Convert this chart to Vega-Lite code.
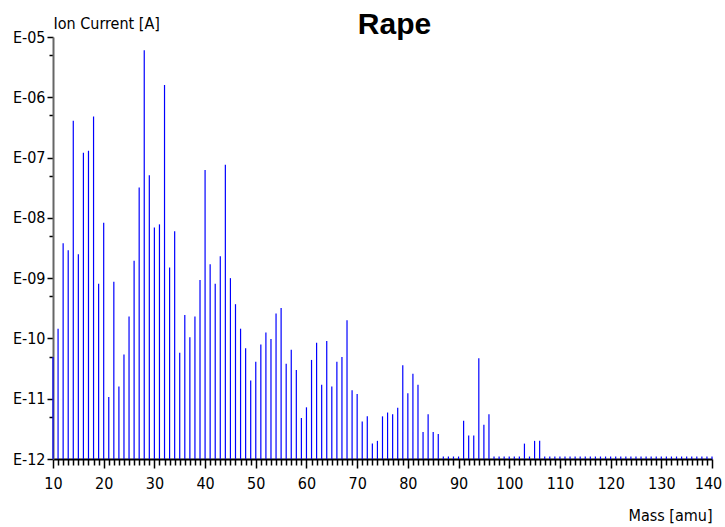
{
  "$schema": "https://vega.github.io/schema/vega-lite/v6.json",
  "width": 659,
  "height": 422,
  "autosize": "none",
  "padding": {"left": 53, "top": 37, "right": 13, "bottom": 68},
  "background": "white",
  "config": {"view": {"stroke": null}},
  "title": {"text": "Rape", "font": "Liberation Sans", "fontSize": 30, "fontWeight": "bold", "color": "black", "anchor": "middle", "dx": 12, "dy": 51, "baseline": "alphabetic", "offset": 2},
  "data": {"values": [
    {"m":10,"i":4.9e-11},{"m":11,"i":1.45e-10},{"m":12,"i":3.8e-9},{"m":13,"i":2.9e-9},{"m":14,"i":4.1e-7},
    {"m":15,"i":2.5e-9},{"m":16,"i":1.2e-7},{"m":17,"i":1.3e-7},{"m":18,"i":4.8e-7},{"m":19,"i":8.1e-10},
    {"m":20,"i":8.3e-9},{"m":21,"i":1.07e-11},{"m":22,"i":8.7e-10},{"m":23,"i":1.6e-11},{"m":24,"i":5.4e-11},
    {"m":25,"i":2.3e-10},{"m":26,"i":1.95e-9},{"m":27,"i":3.2e-8},{"m":28,"i":6.0e-6},{"m":29,"i":5.1e-8},
    {"m":30,"i":6.9e-9},{"m":31,"i":7.8e-9},{"m":32,"i":1.6e-6},{"m":33,"i":1.5e-9},{"m":34,"i":6.0e-9},
    {"m":35,"i":5.8e-11},{"m":36,"i":2.45e-10},{"m":37,"i":1.05e-10},{"m":38,"i":2.3e-10},{"m":39,"i":9.3e-10},
    {"m":40,"i":6.2e-8},{"m":41,"i":1.7e-9},{"m":42,"i":8.1e-10},{"m":43,"i":2.3e-9},{"m":44,"i":7.6e-8},
    {"m":45,"i":1.0e-9},{"m":46,"i":3.7e-10},{"m":47,"i":1.45e-10},{"m":48,"i":6.9e-11},{"m":49,"i":2.0e-11},
    {"m":50,"i":4.1e-11},{"m":51,"i":7.9e-11},{"m":52,"i":1.26e-10},{"m":53,"i":9.8e-11},{"m":54,"i":2.6e-10},
    {"m":55,"i":3.2e-10},{"m":56,"i":3.8e-11},{"m":57,"i":6.5e-11},{"m":58,"i":3.0e-11},{"m":59,"i":4.8e-12},
    {"m":60,"i":7.2e-12},{"m":61,"i":4.4e-11},{"m":62,"i":8.5e-11},{"m":63,"i":1.7e-11},{"m":64,"i":9.1e-11},
    {"m":65,"i":1.6e-11},{"m":66,"i":4.1e-11},{"m":67,"i":4.9e-11},{"m":68,"i":2.0e-10},{"m":69,"i":1.38e-11},
    {"m":70,"i":1.2e-11},{"m":71,"i":4.2e-12},{"m":72,"i":5.1e-12},{"m":73,"i":1.8e-12},{"m":74,"i":2.0e-12},
    {"m":75,"i":5.1e-12},{"m":76,"i":5.9e-12},{"m":77,"i":5.5e-12},{"m":78,"i":7.1e-12},{"m":79,"i":3.6e-11},
    {"m":80,"i":1.23e-11},{"m":81,"i":2.6e-11},{"m":82,"i":1.7e-11},{"m":83,"i":2.8e-12},{"m":84,"i":5.5e-12},
    {"m":85,"i":2.8e-12},{"m":86,"i":2.6e-12},{"m":87,"i":1.1e-12},{"m":88,"i":1.1e-12},{"m":89,"i":1.1e-12},
    {"m":90,"i":1.1e-12},{"m":91,"i":4.3e-12},{"m":92,"i":2.45e-12},{"m":93,"i":2.45e-12},{"m":94,"i":4.7e-11},
    {"m":95,"i":3.7e-12},{"m":96,"i":5.5e-12},{"m":97,"i":1.1e-12},{"m":98,"i":1.1e-12},{"m":99,"i":1.1e-12},
    {"m":100,"i":1.1e-12},{"m":101,"i":1.1e-12},{"m":102,"i":1.1e-12},{"m":103,"i":1.8e-12},{"m":104,"i":1.1e-12},
    {"m":105,"i":2.0e-12},{"m":106,"i":2.0e-12},{"m":107,"i":1.1e-12},{"m":108,"i":1.1e-12},{"m":109,"i":1.1e-12},
    {"m":110,"i":1.1e-12},{"m":111,"i":1.1e-12},{"m":112,"i":1.1e-12},{"m":113,"i":1.1e-12},{"m":114,"i":1.1e-12},
    {"m":115,"i":1.1e-12},{"m":116,"i":1.1e-12},{"m":117,"i":1.1e-12},{"m":118,"i":1.1e-12},{"m":119,"i":1.1e-12},
    {"m":120,"i":1.1e-12},{"m":121,"i":1.1e-12},{"m":122,"i":1.1e-12},{"m":123,"i":1.1e-12},{"m":124,"i":1.1e-12},
    {"m":125,"i":1.1e-12},{"m":126,"i":1.1e-12},{"m":127,"i":1.1e-12},{"m":128,"i":1.1e-12},{"m":129,"i":1.1e-12},
    {"m":130,"i":1.1e-12},{"m":131,"i":1.1e-12},{"m":132,"i":1.1e-12},{"m":133,"i":1.1e-12},{"m":134,"i":1.1e-12},
    {"m":135,"i":1.1e-12},{"m":136,"i":1.1e-12},{"m":137,"i":1.1e-12},{"m":138,"i":1.1e-12},{"m":139,"i":1.1e-12},
    {"m":140,"i":1.1e-12}
  ]},
  "layer": [
    {
      "mark": {"type": "rule", "opacity": 0},
      "encoding": {
        "x": {"field": "m", "type": "quantitative",
          "scale": {"domain": [10, 140], "nice": false, "zero": false},
          "axis": {"orient": "bottom", "values": [11,12,13,14,15,16,17,18,19,21,22,23,24,25,26,27,28,29,31,32,33,34,35,36,37,38,39,41,42,43,44,45,46,47,48,49,51,52,53,54,55,56,57,58,59,61,62,63,64,65,66,67,68,69,71,72,73,74,75,76,77,78,79,81,82,83,84,85,86,87,88,89,91,92,93,94,95,96,97,98,99,101,102,103,104,105,106,107,108,109,111,112,113,114,115,116,117,118,119,121,122,123,124,125,126,127,128,129,131,132,133,134,135,136,137,138,139],
            "tickSize": 6, "tickWidth": 1.5, "tickColor": "black", "domain": false, "labels": false, "grid": false, "title": null}},
        "y": {"field": "i", "type": "quantitative",
          "scale": {"type": "log", "domain": [1e-12, 1e-5], "nice": false},
          "axis": {"orient": "left", "values": [5e-6,5e-7,5e-8,5e-9,5e-10,5e-11,5e-12], "tickSize": 4, "tickWidth": 1.5, "tickColor": "black", "domain": false, "labels": false, "grid": false, "title": null}}
      }
    },
    {
      "mark": {"type": "rule", "color": "#0000ff", "strokeWidth": 1.2},
      "encoding": {
        "x": {"field": "m", "type": "quantitative",
          "axis": {"orient": "bottom", "values": [10,20,30,40,50,60,70,80,90,100,110,120,130,140], "tickSize": 9, "tickWidth": 1.5, "tickColor": "black",
            "domainColor": "black", "domainWidth": 2, "grid": false,
            "labelFont": "DejaVu Sans Condensed", "labelFontSize": 16, "labelColor": "black", "labelPadding": 7, "labelFlush": false,
            "labelOffset": {"condition": {"test": "datum.value == 140", "value": -4}, "value": 0},
            "title": "Mass [amu]", "titleFont": "DejaVu Sans Condensed", "titleFontSize": 16, "titleFontWeight": "normal", "titleColor": "black",
            "titleAnchor": "end", "titleAlign": "right", "titleBaseline": "alphabetic", "titleX": 659, "titleY": 61}},
        "y": {"field": "i", "type": "quantitative",
          "axis": {"orient": "left", "values": [1e-5,1e-6,1e-7,1e-8,1e-9,1e-10,1e-11,1e-12], "tickSize": 6, "tickWidth": 1.5, "tickColor": "black",
            "domainColor": "#666666", "domainWidth": 2, "grid": false,
            "labelExpr": "'E-' + (round(-log(datum.value)/LN10) < 10 ? '0' : '') + round(-log(datum.value)/LN10)",
            "labelFont": "DejaVu Sans Condensed", "labelFontSize": 16, "labelColor": "black", "labelPadding": 2, "labelFlush": false,
            "title": "Ion Current [A]", "titleFont": "DejaVu Sans Condensed", "titleFontSize": 16, "titleFontWeight": "normal", "titleColor": "black",
            "titleAngle": 0, "titleAlign": "left", "titleBaseline": "alphabetic", "titleX": 0, "titleY": -9}},
        "y2": {"datum": 1e-12}
      }
    }
  ],
  "resolve": {"axis": {"x": "independent", "y": "independent"}}
}
